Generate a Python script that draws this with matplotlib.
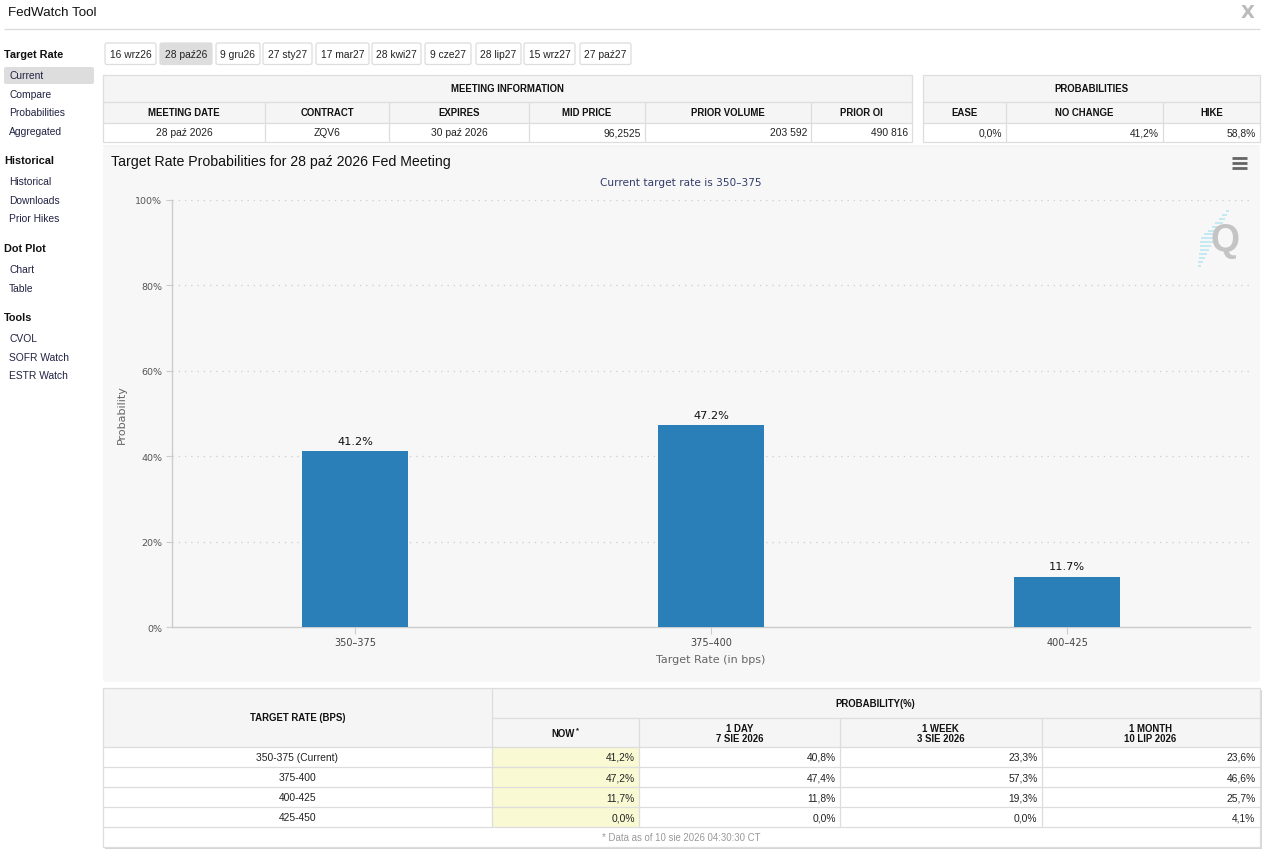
import matplotlib
matplotlib.use("Agg")
import matplotlib.pyplot as plt
from matplotlib.patches import Rectangle, FancyBboxPatch

# ---------------- data ----------------
tab_labels = ["16 wrz26", "28 paź26", "9 gru26", "27 sty27", "17 mar27",
              "28 kwi27", "9 cze27", "28 lip27", "15 wrz27", "27 paź27"]
selected_tab = "28 paź26"

sidebar_sections = ["Target Rate", "Historical", "Dot Plot", "Tools"]
sidebar_items = [["Current", "Compare", "Probabilities", "Aggregated"],
                 ["Historical", "Downloads", "Prior Hikes"],
                 ["Chart", "Table"],
                 ["CVOL", "SOFR Watch", "ESTR Watch"]]
selected_item = "Current"

meeting_headers = ["MEETING DATE", "CONTRACT", "EXPIRES", "MID PRICE", "PRIOR VOLUME", "PRIOR OI"]
meeting_values = ["28 paź 2026", "ZQV6", "30 paź 2026", "96,2525", "203 592", "490 816"]
prob_headers = ["EASE", "NO CHANGE", "HIKE"]
prob_values = ["0,0%", "41,2%", "58,8%"]

chart_bins = ["350-375", "375-400", "400-425"]
chart_values = [41.2, 47.2, 11.7]
current_rate = "350-375"
meeting_label = "28 paź 2026"

table_rates = ["350-375 (Current)", "375-400", "400-425", "425-450"]
period_headers = ["NOW", "1 DAY\n7 SIE 2026", "1 WEEK\n3 SIE 2026", "1 MONTH\n10 LIP 2026"]
prob_now = [41.2, 47.2, 11.7, 0.0]
prob_1day = [40.8, 47.4, 11.8, 0.0]
prob_1week = [23.3, 57.3, 19.3, 0.0]
prob_1month = [23.6, 46.6, 25.7, 4.1]
footnote = "* Data as of 10 sie 2026 04:30:30 CT"

# ---------------- layout ----------------
W, H = 1265, 854
PAGE = "Liberation Sans"
CHART = "DejaVu Sans"
BORDER = "#dddddd"
HEAD_BG = "#f5f5f5"

fig = plt.figure(figsize=(W / 100, H / 100), dpi=100)
fig.patch.set_facecolor("white")
bg = fig.add_axes([0, 0, 1, 1])
bg.set_xlim(0, W)
bg.set_ylim(H, 0)
bg.axis("off")


def rect(x0, y0, x1, y1, fc, ec="none", lw=0.8, z=1):
    bg.add_patch(Rectangle((x0, y0), x1 - x0, y1 - y0, facecolor=fc,
                           edgecolor=ec, linewidth=lw, zorder=z))


def hline(x0, x1, y, color=BORDER, lw=0.9, z=2):
    bg.plot([x0, x1], [y, y], color=color, lw=lw, zorder=z, solid_capstyle="butt")


def vline(x, y0, y1, color=BORDER, lw=0.9, z=2):
    bg.plot([x, x], [y0, y1], color=color, lw=lw, zorder=z, solid_capstyle="butt")


def txt(x, y, s, size=7.6, ha="center", weight="normal", color="#222222",
        family=PAGE, va="center", z=5, ls=1.2):
    bg.text(x, y, s, fontsize=size, ha=ha, va=va, fontweight=weight,
            color=color, family=family, zorder=z, linespacing=ls)


def pct(v):
    return f"{v:.1f}%".replace(".", ",")


# header
txt(8, 13, "FedWatch Tool", size=9.6, ha="left", color="#111111")
txt(1248, 13, "X", size=13, color="#bbbbbb", family="DejaVu Sans", weight="bold")
hline(4, 1260, 29.5, color="#dddddd", lw=1.0)

# sidebar
sec_y = [55, 161, 249, 318]
for sec, items, y in zip(sidebar_sections, sidebar_items, sec_y):
    txt(4, y, sec, size=7.8, ha="left", weight="bold", color="#111111")
    for i, it in enumerate(items):
        iy = y + 21 + i * 18.7
        if it == selected_item:
            bg.add_patch(FancyBboxPatch((4, iy - 8), 90, 17, boxstyle="round,pad=0,rounding_size=2",
                                        facecolor="#dddddd", edgecolor="none", zorder=1))
        txt(9, iy, it, size=7.4, ha="left", color="#222244")

# tabs
tab_x = [105, 160, 216, 263, 316, 372, 425, 476, 524, 580]
tab_w = [51, 52, 44, 49, 53, 49, 46, 45, 51, 51]
for lab, x, w in zip(tab_labels, tab_x, tab_w):
    sel = lab == selected_tab
    bg.add_patch(FancyBboxPatch((x, 44), w, 21.5, boxstyle="round,pad=0,rounding_size=2",
                                facecolor="#dddddd" if sel else "white",
                                edgecolor="#dddddd", linewidth=0.9, zorder=2))
    txt(x + w / 2, 55, lab, size=7.4, color="#222222")

# meeting information table
mcols = [103, 265, 389, 529, 645, 811, 912]
rect(103, 76, 912, 124, HEAD_BG, z=1)
rect(103, 124, 912, 143, "white", z=1)
bg.add_patch(Rectangle((103, 76), 809, 67, facecolor="none", edgecolor=BORDER, lw=0.9, zorder=3))
hline(103, 912, 102.5)
hline(103, 912, 124)
for c in mcols[1:-1]:
    vline(c, 102.5, 143)
txt((103 + 912) / 2, 89.5, "MEETING INFORMATION", size=6.9, weight="bold", color="#111111")
for i, (h, v) in enumerate(zip(meeting_headers, meeting_values)):
    cx = (mcols[i] + mcols[i + 1]) / 2
    txt(cx, 113.5, h, size=6.9, weight="bold", color="#111111")
    if i < 3:
        txt(cx, 133.5, v, size=7.4)
    else:
        txt(mcols[i + 1] - 4, 133.5, v, size=7.4, ha="right")

# probabilities table
pcols = [923, 1006, 1163, 1260]
rect(923, 76, 1260, 124, HEAD_BG, z=1)
rect(923, 124, 1260, 143, "white", z=1)
bg.add_patch(Rectangle((923, 76), 337, 67, facecolor="none", edgecolor=BORDER, lw=0.9, zorder=3))
hline(923, 1260, 102.5)
hline(923, 1260, 124)
for c in pcols[1:-1]:
    vline(c, 102.5, 143)
txt((923 + 1260) / 2, 89.5, "PROBABILITIES", size=6.9, weight="bold", color="#111111")
for i, (h, v) in enumerate(zip(prob_headers, prob_values)):
    cx = (pcols[i] + pcols[i + 1]) / 2
    txt(cx, 113.5, h, size=6.9, weight="bold", color="#111111")
    txt(pcols[i + 1] - 4, 133.5, v, size=7.4, ha="right")

# chart panel
rect(103, 146, 1260, 148, "#f4f4f4", z=0.5)
bg.add_patch(FancyBboxPatch((103, 148), 1157, 535, boxstyle="round,pad=0,rounding_size=3",
                            facecolor="#f7f7f7", edgecolor="none", zorder=0.5))
txt(111, 162, f"Target Rate Probabilities for {meeting_label} Fed Meeting", size=10.2,
    ha="left", color="#111111")
txt(681, 183, f"Current target rate is {current_rate.replace('-', '–')}", size=7.6,
    color="#333c6b", family=CHART)
for yy in (159, 164, 169):
    hline(1232, 1247, yy, color="#666666", lw=2.0, z=3)
# logo
for k in range(15):
    yy = 212 + k * 3.9
    xr = 1229 - k * 2.0
    ln = 3 + min(k, 14 - k) * 1.6
    hline(xr - ln, xr, yy, color="#b7e6f3", lw=1.1, z=1)
txt(1225, 241, "Q", size=27, weight="bold", color="#c4c4c4", z=2)

# bar chart
ax = fig.add_axes([172 / W, 1 - 628 / H, 1078 / W, 427 / H])
ax.set_facecolor("none")
xs = list(range(len(chart_bins)))
bars = ax.bar(xs, chart_values, width=0.3, color="#2b7fb8", zorder=3)
for b, v in zip(bars, chart_values):
    ax.annotate(f"{v}%", (b.get_x() + b.get_width() / 2, v), xytext=(0, 4),
                textcoords="offset points", ha="center", va="bottom",
                fontsize=8.2, family=CHART, color="#111111")
pad = 0.014
ax.set_xlim(-0.5 - pad, len(chart_bins) - 0.5 + pad)
ax.set_ylim(0, 100)
ax.set_yticks(range(0, 101, 20))
ax.set_yticklabels([f"{v}%" for v in range(0, 101, 20)], fontsize=6.8, family=CHART, color="#555555")
ax.set_xticks(xs)
ax.set_xticklabels([c.replace("-", "–") for c in chart_bins], fontsize=7.0, family=CHART, color="#444444")
ax.tick_params(axis="y", length=4, width=0.8, color="#cccccc", pad=3)
ax.tick_params(axis="x", length=5, width=0.8, color="#cccccc", pad=2)
ax.grid(axis="y", linestyle=(0, (1, 4)), color="#cccccc", lw=0.9, zorder=0)
for s in ("top", "right"):
    ax.spines[s].set_visible(False)
ax.spines["left"].set_color("#cccccc")
ax.spines["bottom"].set_color("#cccccc")
ax.spines["left"].set_linewidth(1.0)
ax.spines["bottom"].set_linewidth(1.0)
ax.set_ylabel("Probability", fontsize=8.0, family=CHART, color="#666666")
ax.yaxis.set_label_coords(-0.042, 0.5)
ax.set_xlabel("Target Rate (in bps)", fontsize=8.0, family=CHART, color="#666666")
ax.xaxis.set_label_coords(0.5, -0.064)

# bottom probability table
T0, T1 = 103, 1259.5
bcols = [103, 492, 639, 840, 1041.5, 1259.5]
rows_y = [689, 718.5, 747.5, 768, 788.3, 808.3, 828.3, 848.3]
rect(T0 + 2, rows_y[0] + 2, T1 + 2, rows_y[-1] + 2, "#d6d6d6", z=0.3)
rect(T0, rows_y[0], T1, rows_y[2], HEAD_BG, z=1)
rect(T0, rows_y[2], T1, rows_y[-1], "white", z=1)
rect(bcols[1], rows_y[2], bcols[2], rows_y[6], "#f9f9d3", z=1.2)
bg.add_patch(Rectangle((T0, rows_y[0]), T1 - T0, rows_y[-1] - rows_y[0], facecolor="none",
                       edgecolor=BORDER, lw=0.9, zorder=3))
hline(bcols[1], T1, rows_y[1])
for y in rows_y[2:7]:
    hline(T0, T1, y)
vline(bcols[1], rows_y[0], rows_y[6])
for c in bcols[2:-1]:
    vline(c, rows_y[1], rows_y[6])
txt((bcols[0] + bcols[1]) / 2, (rows_y[0] + rows_y[2]) / 2, "TARGET RATE (BPS)", size=6.9,
    weight="bold", color="#111111")
txt((bcols[1] + T1) / 2, (rows_y[0] + rows_y[1]) / 2, "PROBABILITY(%)", size=6.9,
    weight="bold", color="#111111")
for i, h in enumerate(period_headers):
    cx = (bcols[i + 1] + bcols[i + 2]) / 2
    cy = (rows_y[1] + rows_y[2]) / 2 + 1
    if i == 0:
        txt(cx - 2, cy, h, size=6.9, weight="bold", color="#111111")
        txt(cx + 12, cy - 3, "*", size=5.5, weight="bold", color="#111111")
    else:
        txt(cx, cy, h, size=6.9, weight="bold", color="#111111", ls=1.05)
series = [prob_now, prob_1day, prob_1week, prob_1month]
for r, rate in enumerate(table_rates):
    cy = (rows_y[2 + r] + rows_y[3 + r]) / 2
    txt((bcols[0] + bcols[1]) / 2, cy, rate, size=7.4)
    for j, s in enumerate(series):
        txt(bcols[j + 2] - 4, cy, pct(s[r]), size=7.4, ha="right")
txt((T0 + T1) / 2, (rows_y[6] + rows_y[7]) / 2, footnote, size=6.9, color="#999999")

fig.savefig("out.png", dpi=100, facecolor="white")
